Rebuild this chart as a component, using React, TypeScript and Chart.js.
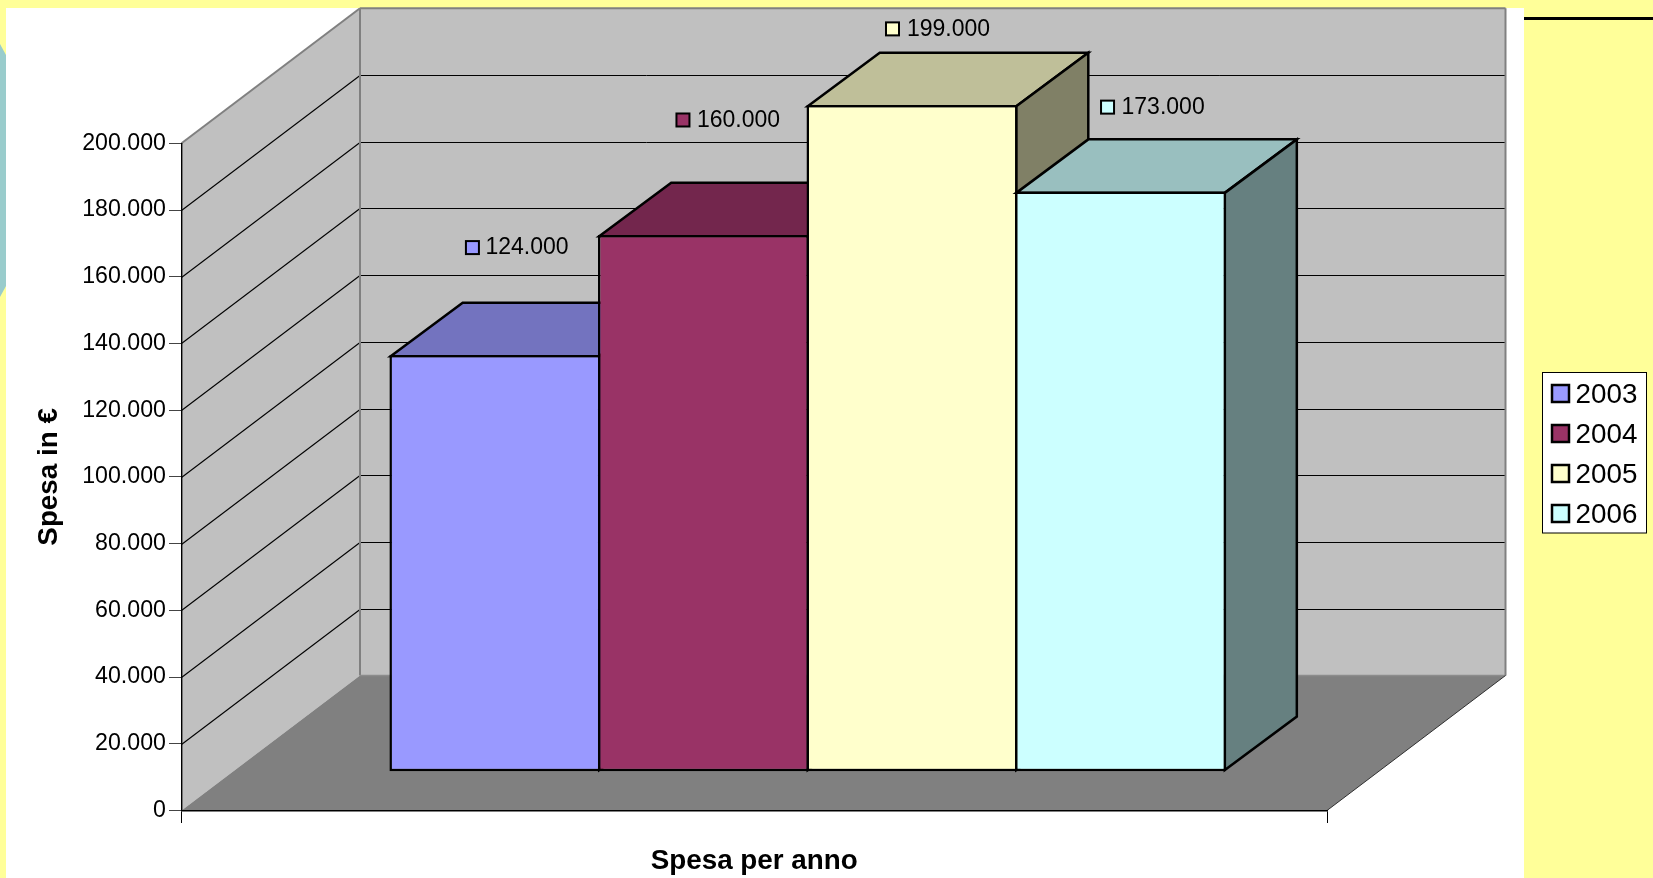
import React, { useEffect, useRef } from "react";
import { Chart, registerables } from "chart.js";

Chart.register(...registerables);

// ---- data ----
const categories = ["Spesa per anno"];
const years = ["2003", "2004", "2005", "2006"];
const spesa2003 = [124000];
const spesa2004 = [160000];
const spesa2005 = [199000];
const spesa2006 = [173000];
const seriesValues = [spesa2003, spesa2004, spesa2005, spesa2006];
const seriesColors = ["#9999FF", "#993366", "#FFFFCC", "#CCFFFF"];
const dataLabels = ["124.000", "160.000", "199.000", "173.000"];

// ---- styling / layout ----
const FONT = '"Liberation Sans", Arial, sans-serif';
const YELLOW = "#FFFF99";
const GREY_WALL = "#C0C0C0";
const GREY_FLOOR = "#808080";
const DEPTH_X = 178.5;
const DEPTH_Y = 135;
const BAR_BORDER = 2.5;
const BAR_DX = 53.5; // bar front plane offset from the axis plane
const BAR_DY = 40.5 + BAR_BORDER / 2;
const BAR_DEPTH_X = 72;
const BAR_DEPTH_Y = 53.5;
// label marker offset from the front top-left corner of its bar, and gap to the text
const LABEL_OFFSETS = [
  [74.5, -116, 20.5],
  [76.5, -123.5, 21.5],
  [77.5, -84.5, 22],
  [84, -93, 21.5],
];

function shade(hex: string, f: number) {
  const n = parseInt(hex.slice(1), 16);
  const r = Math.round(((n >> 16) & 255) * f);
  const g = Math.round(((n >> 8) & 255) * f);
  const b = Math.round((n & 255) * f);
  return `rgb(${r},${g},${b})`;
}

function poly(ctx: CanvasRenderingContext2D, pts: number[][], fill?: string, stroke?: string, lw = 1) {
  ctx.beginPath();
  pts.forEach(([x, y], i) => (i ? ctx.lineTo(x, y) : ctx.moveTo(x, y)));
  ctx.closePath();
  if (fill) {
    ctx.fillStyle = fill;
    ctx.fill();
  }
  if (stroke) {
    ctx.strokeStyle = stroke;
    ctx.lineWidth = lw;
    ctx.lineJoin = "miter";
    ctx.stroke();
  }
}

function seg(ctx: CanvasRenderingContext2D, x1: number, y1: number, x2: number, y2: number, color: string, lw: number) {
  ctx.beginPath();
  ctx.moveTo(x1, y1);
  ctx.lineTo(x2, y2);
  ctx.strokeStyle = color;
  ctx.lineWidth = lw;
  ctx.stroke();
}

const scenePlugin = {
  id: "scene3d",
  beforeDraw(chart: any) {
    const { ctx, width, height } = chart;
    const { x, y } = chart.scales;
    const l = x.left;
    const r = x.right;
    const t = y.top;
    const b = y.bottom;
    ctx.save();
    // slide background
    ctx.fillStyle = YELLOW;
    ctx.fillRect(0, 0, width, height);
    poly(ctx, [[0, 44], [6, 55], [6, 286], [0, 297]], "#99CCCC");
    ctx.fillStyle = "#FFFFFF";
    ctx.fillRect(6, 8, 1518, height - 8);
    ctx.fillStyle = "#000000";
    ctx.fillRect(1524, 17, width - 1524, 3);

    // walls and floor
    poly(ctx, [[l, t], [l + DEPTH_X, t - DEPTH_Y], [l + DEPTH_X, b - DEPTH_Y], [l, b]], GREY_WALL);
    poly(ctx, [[l, b], [l + DEPTH_X, b - DEPTH_Y], [r + DEPTH_X, b - DEPTH_Y], [r, b]], GREY_FLOOR);
    ctx.fillStyle = GREY_WALL;
    ctx.fillRect(l + DEPTH_X, t - DEPTH_Y, r - l, b - t);

    // grid lines on both walls
    y.ticks.forEach((tick: any) => {
      if (tick.value === 0 || tick.value === 200000) return;
      const py = Math.round(y.getPixelForValue(tick.value)) + 0.5;
      seg(ctx, l, py, l + DEPTH_X, py - DEPTH_Y, "#000000", 1.1);
      seg(ctx, l + DEPTH_X, py - DEPTH_Y, r + DEPTH_X, py - DEPTH_Y, "#000000", 1);
    });

    // wall outline
    seg(ctx, l, t, l + DEPTH_X, t - DEPTH_Y, GREY_FLOOR, 2);
    seg(ctx, l + DEPTH_X, t - DEPTH_Y, r + DEPTH_X, t - DEPTH_Y, GREY_FLOOR, 2);
    seg(ctx, l + DEPTH_X, t - DEPTH_Y, l + DEPTH_X, b - DEPTH_Y, GREY_FLOOR, 2);
    seg(ctx, r + DEPTH_X, t - DEPTH_Y, r + DEPTH_X, b - DEPTH_Y, GREY_FLOOR, 2);
    seg(ctx, l + DEPTH_X, b - DEPTH_Y, r + DEPTH_X, b - DEPTH_Y, "#8c8c8c", 1.5);
    seg(ctx, r, b, r + DEPTH_X, b - DEPTH_Y, "#303030", 1);
    ctx.restore();
  },
  beforeDatasetsDraw(chart: any) {
    const { ctx } = chart;
    // Left to right, so every bar covers the side face of the one before it.
    chart.data.datasets.forEach((ds: any, i: number) => {
      const meta = chart.getDatasetMeta(i);
      const bar = meta.data[0];
      const half = BAR_BORDER / 2;
      const xl = bar.x - bar.width / 2 + half;
      const xr = bar.x + bar.width / 2 - half;
      const yt = bar.y + half;
      const yb = bar.base - half;
      const color = ds.backgroundColor as string;
      ctx.save();
      ctx.translate(BAR_DX, -BAR_DY);
      poly(
        ctx,
        [[xl, yt], [xl + BAR_DEPTH_X, yt - BAR_DEPTH_Y], [xr + BAR_DEPTH_X, yt - BAR_DEPTH_Y], [xr, yt]],
        shade(color, 0.75),
        "#000000",
        BAR_BORDER,
      );
      poly(
        ctx,
        [[xr, yt], [xr + BAR_DEPTH_X, yt - BAR_DEPTH_Y], [xr + BAR_DEPTH_X, yb - BAR_DEPTH_Y], [xr, yb]],
        shade(color, 0.5),
        "#000000",
        BAR_BORDER,
      );
      meta.controller.draw();
      ctx.restore();
    });
    return false;
  },
  afterDraw(chart: any) {
    const { ctx } = chart;
    ctx.save();
    ctx.textBaseline = "middle";
    ctx.textAlign = "left";
    // data labels
    chart.data.datasets.forEach((ds: any, i: number) => {
      const bar = chart.getDatasetMeta(i).data[0];
      const cx = bar.x - bar.width / 2 + 1 + BAR_DX + LABEL_OFFSETS[i][0];
      const cy = bar.y + 1 - BAR_DY + LABEL_OFFSETS[i][1];
      ctx.fillStyle = ds.backgroundColor;
      ctx.strokeStyle = "#000000";
      ctx.lineWidth = 2;
      ctx.fillRect(cx + 1, cy + 1, 13, 13);
      ctx.strokeRect(cx + 1, cy + 1, 13, 13);
      ctx.fillStyle = "#000000";
      ctx.font = `23px ${FONT}`;
      ctx.fillText(dataLabels[i], cx + LABEL_OFFSETS[i][2], cy + 8);
    });
    // legend
    ctx.fillStyle = "#FFFFFF";
    ctx.fillRect(1542.5, 372.5, 104, 160.5);
    ctx.strokeStyle = "#000000";
    ctx.lineWidth = 1;
    ctx.strokeRect(1542.5, 372.5, 104, 160.5);
    chart.data.datasets.forEach((ds: any, i: number) => {
      const sy = 385 + i * 40;
      ctx.fillStyle = ds.backgroundColor;
      ctx.strokeStyle = "#000000";
      ctx.lineWidth = 2.5;
      ctx.fillRect(1552, sy, 17, 17);
      ctx.strokeRect(1552, sy, 17, 17);
      ctx.fillStyle = "#000000";
      ctx.font = `27.8px ${FONT}`;
      ctx.fillText(ds.label, 1575.5, sy + 10.5);
    });
    ctx.restore();
  },
};

export default function App() {
  const ref = useRef<HTMLCanvasElement>(null);
  useEffect(() => {
    document.body.style.margin = "0";
    document.body.style.overflow = "hidden";
    const chart = new Chart(ref.current!, {
      type: "bar",
      data: {
        labels: categories,
        datasets: years.map((year, i) => ({
          label: year,
          data: seriesValues[i],
          backgroundColor: seriesColors[i],
          borderColor: "#000000",
          borderWidth: BAR_BORDER,
          borderSkipped: false,
          base: -750,
        })),
      },
      plugins: [scenePlugin],
      options: {
        responsive: false,
        animation: false,
        categoryPercentage: 0.7282,
        barPercentage: 1.012,
        layout: { padding: { top: 143.3, right: 326, left: 0, bottom: 0 } },
        plugins: {
          legend: { display: false },
          tooltip: { enabled: false },
        },
        scales: {
          x: {
            type: "category",
            offset: true,
            afterFit(scale: any) {
              scale.height = 67.5;
            },
            grid: {
              offset: true,
              drawOnChartArea: false,
              drawTicks: true,
              tickLength: 12.5,
              color: "#000000",
              lineWidth: 1,
            },
            border: { display: true, color: "#000000", width: 1.4 },
            ticks: { display: false },
            title: {
              display: true,
              text: "Spesa per anno",
              color: "#000000",
              font: { family: FONT, size: 27.8, weight: "bold" },
              padding: { top: 0, bottom: 0 },
            },
          },
          y: {
            type: "linear",
            min: 0,
            max: 200000,
            afterFit(scale: any) {
              scale.width = 181.5;
            },
            grid: {
              drawOnChartArea: false,
              drawTicks: true,
              tickLength: 12.5,
              color: "#444444",
              lineWidth: 1,
            },
            border: { display: true, color: "#000000", width: 1.4 },
            ticks: {
              stepSize: 20000,
              padding: 3,
              color: "#000000",
              font: { family: FONT, size: 23.2 },
              callback: (v: any) => String(v).replace(/\B(?=(\d{3})+$)/g, "."),
            },
            title: {
              display: true,
              text: "Spesa in €",
              color: "#000000",
              font: { family: FONT, size: 27.8, weight: "bold" },
              padding: { top: 32.5, bottom: 0 },
            },
          },
        },
      },
    } as any);
    return () => chart.destroy();
  }, []);
  return (
    <canvas
      ref={ref}
      width={1653}
      height={878}
      style={{ position: "fixed", left: 0, top: 0, width: 1653, height: 878, display: "block" }}
    />
  );
}
